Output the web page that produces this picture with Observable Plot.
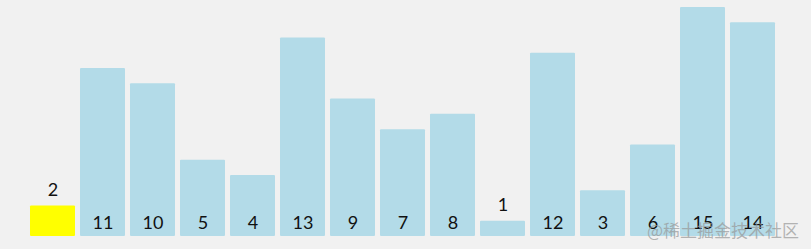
<!DOCTYPE html>
<html>
<head>
<meta charset="utf-8">
<script src="https://cdn.jsdelivr.net/npm/d3@7"></script>
<script src="https://cdn.jsdelivr.net/npm/@observablehq/plot@0.6"></script>
<style>
  html, body { margin: 0; padding: 0; background: #f1f1f1; }
  #wrap { position: relative; width: 811px; height: 249px; }
  #wm { position: absolute; left: 647px; top: 217px; font-family: "Noto Sans CJK SC", sans-serif; font-size: 17px; color: rgba(150,150,150,0.7); white-space: nowrap; }
</style>
</head>
<body>
<div id="wrap"><div id="wm">@稀土掘金技术社区</div></div>
<script>
const values = [2, 11, 10, 5, 4, 13, 9, 7, 8, 1, 12, 3, 6, 15, 14];
const highlighted = [0];
const barColor = "#b3dbe8";
const highlightColor = "#ffff00";

const data = values.map((v, i) => ({i, v, hl: highlighted.includes(i)}));

const chart = Plot.plot({
  width: 811,
  height: 249,
  marginLeft: 27.5,
  marginRight: 33.5,
  marginTop: 7,
  marginBottom: 13,
  style: {background: "#f1f1f1", fontFamily: "Lato, sans-serif"},
  x: {domain: d3.range(values.length), paddingInner: 0.1, paddingOuter: 0.05, axis: null},
  y: {domain: [0, 15], axis: null},
  marks: [
    Plot.barY(data, {x: "i", y: "v", fill: d => d.hl ? highlightColor : barColor, rx: 1}),
    Plot.text(data.filter(d => d.v > 2), {x: "i", y: 0, text: d => String(d.v), dy: -8, lineAnchor: "bottom", fontSize: 18, fill: "#111"}),
    Plot.text(data.filter(d => d.v <= 2), {x: "i", y: "v", text: d => String(d.v), dy: -10, lineAnchor: "bottom", fontSize: 18, fill: "#111"})
  ]
});
document.getElementById("wrap").prepend(chart);
chart.style.display = "block";
</script>
</body>
</html>
